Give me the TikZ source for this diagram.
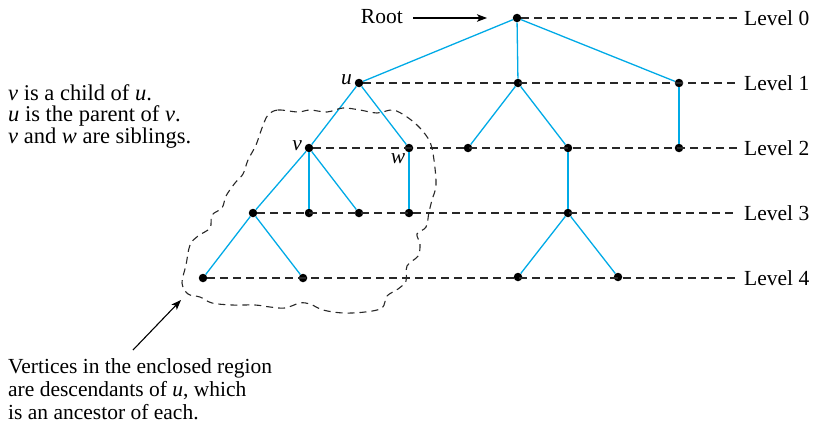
\documentclass[tikz,border=0pt]{standalone}
\usepackage{fontspec}
\setmainfont{Liberation Serif}
\usetikzlibrary{arrows.meta}
\definecolor{edgeblue}{RGB}{0,170,230}
\definecolor{dashgray}{RGB}{40,40,40}
\begin{document}
\begin{tikzpicture}[x=1pt,y=-1pt,
  dot/.style={circle,fill=black,inner sep=0pt,minimum size=8.5pt},
  tedge/.style={edgeblue,line width=1.3pt},
  lvl/.style={dashgray,line width=1.2pt,dash pattern=on 8pt off 5pt},
  lvllbl/.style={anchor=west,inner xsep=6pt,inner ysep=2pt,font=\fontsize{21.5}{23}\selectfont},
  txt/.style={anchor=base west,inner sep=0pt,font=\fontsize{21.5}{23}\selectfont},
  txtb/.style={anchor=base west,inner sep=0pt,font=\fontsize{22.5}{23}\selectfont},
  vlbl/.style={inner sep=1pt,font=\fontsize{21.5}{23}\selectfont\itshape},
  arr/.style={black,line width=1.1pt,-{Stealth[length=10pt,width=7.5pt,inset=2.5pt]}},
  encl/.style={dashgray,line width=1.1pt,dash pattern=on 7pt off 5pt}
]
\useasboundingbox (0,0) rectangle (818,428);

% vertices
\node[dot] (r) at (517,18) {};
\node[dot] (a1) at (359,83) {};
\node[dot] (a2) at (518,83) {};
\node[dot] (a3) at (679,83) {};
\node[dot] (b1) at (309,148) {};
\node[dot] (b2) at (409,148) {};
\node[dot] (b3) at (468,148) {};
\node[dot] (b4) at (568,148) {};
\node[dot] (b5) at (679,148) {};
\node[dot] (c1) at (253,213) {};
\node[dot] (c2) at (309,213) {};
\node[dot] (c3) at (359,213) {};
\node[dot] (c4) at (409,213) {};
\node[dot] (c5) at (568,213) {};
\node[dot] (d1) at (203,278) {};
\node[dot] (d2) at (303,278) {};
\node[dot] (d3) at (518,277) {};
\node[dot] (d4) at (618,277) {};

% level labels
\node[lvllbl] (L0) at (738,18) {Level 0};
\node[lvllbl] (L1) at (738,83) {Level 1};
\node[lvllbl] (L2) at (738,148) {Level 2};
\node[lvllbl] (L3) at (738,213) {Level 3};
\node[lvllbl] (L4) at (738,278) {Level 4};

% level dashed lines
\draw[lvl] (r) -- (L0);
\draw[lvl] (a1) -- (L1);
\draw[lvl] (b1) -- (L2);
\draw[lvl] (c1) -- (L3);
\draw[lvl] (d1) -- (L4);

% tree edges
\draw[tedge] (r) -- (a1);
\draw[tedge] (r) -- (a2);
\draw[tedge] (r) -- (a3);
\draw[tedge] (a1) -- (b1);
\draw[tedge] (a1) -- (b2);
\draw[tedge] (a2) -- (b3);
\draw[tedge] (a2) -- (b4);
\draw[tedge] (a3) -- (b5);
\draw[tedge] (b1) -- (c1);
\draw[tedge] (b1) -- (c2);
\draw[tedge] (b1) -- (c3);
\draw[tedge] (b2) -- (c4);
\draw[tedge] (b4) -- (c5);
\draw[tedge] (c1) -- (d1);
\draw[tedge] (c1) -- (d2);
\draw[tedge] (c5) -- (d3);
\draw[tedge] (c5) -- (d4);

% vertex labels
\node[vlbl,anchor=east] (ul) at (353,80) {u};
\node[vlbl,anchor=east] (vl) at (303,146) {v};
\node[vlbl] (wl) at (398,159) {w};

% root label and arrow
\node[anchor=east,inner sep=2pt,font=\fontsize{21.5}{23}\selectfont] (rootlbl) at (405,17) {Root};
\coordinate (rstart) at (413,18);
\coordinate (rtip) at (487,18);
\draw[arr] (rstart) -- (rtip);

% enclosed region
\draw[encl] plot[smooth cycle,tension=0.55] coordinates {
(268,115) (278,110) (298,112) (310,110) (327,112) (343,108) (360,110) (377,113)
(393,110) (407,117) (420,128) (430,142) (434,160) (436,185) (432,200) (429,212)
(426,227) (417,234) (420,244) (418,256) (407,266) (406,281) (398,289) (387,296)
(382,308) (365,312) (343,313) (323,310) (310,304) (300,303) (285,308) (270,307)
(255,305) (232,305) (212,303) (200,297) (188,294) (182,283) (186,265) (190,245)
(198,236) (210,228) (212,215) (222,208) (226,196) (235,183) (243,174) (248,160)
(256,145) (262,128)};

% text block left top
\node[txtb] (t1) at (8,100) {\textit{v} is a child of \textit{u}.};
\node[txtb] (t2) at (8,121.5) {\textit{u} is the parent of \textit{v}.};
\node[txtb] (t3) at (8,143) {\textit{v} and \textit{w} are siblings.};

% text block bottom
\node[txt] (s1) at (8,373) {Vertices in the enclosed region};
\node[txt] (s2) at (8,396) {are descendants of \textit{u}, which};
\node[txt] (s3) at (8,419) {is an ancestor of each.};

\coordinate (astart) at (133,350);
\coordinate (aend) at (181,300);
\draw[arr] (astart) -- (aend);
\end{tikzpicture}
\end{document}
